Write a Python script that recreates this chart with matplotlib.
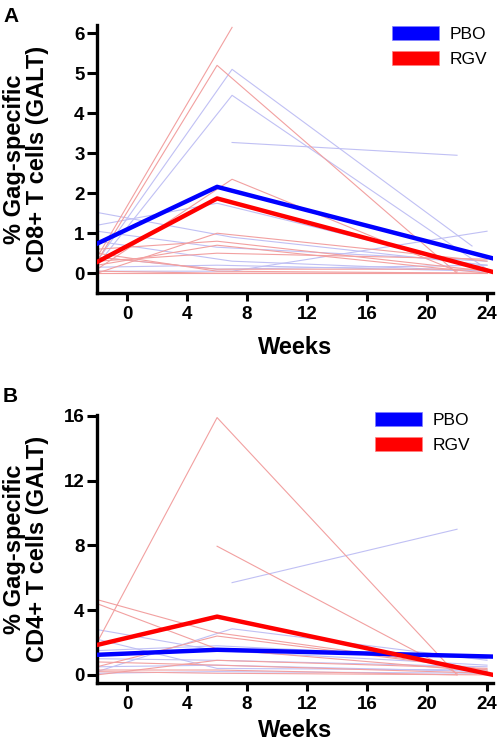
import matplotlib
matplotlib.use("Agg")
import matplotlib.pyplot as plt
from matplotlib.patches import Patch

plt.rcParams['font.family'] = ['Liberation Sans', 'DejaVu Sans']

# ---- panel A: CD8+ (GALT) ----
a_pbo_subjects = [
    ([-2, 7, 23], [0.30, 5.10, 0.68]),
    ([-2, 7, 24], [0.20, 4.45, 0.10]),
    ([7, 22], [3.27, 2.95]),
    ([-2, 7, 24], [1.52, 0.90, 0.20]),
    ([-2, 6, 24], [1.20, 1.75, 0.10]),
    ([-2, 7, 24], [0.80, 0.30, 0.05]),
    ([-2, 7, 24], [0.05, 0.05, 1.05]),
    ([-2, 6, 24], [0.40, 0.10, 0.20]),
    ([-2, 6, 24], [1.05, 0.65, 0.30]),
    ([-2, 6, 24], [0.15, 0.20, 0.05]),
]
a_rgv_subjects = [
    ([-2, 7], [0.40, 6.15]),
    ([-2, 6, 22], [0.30, 5.20, 0.00]),
    ([-2, 7, 22], [0.10, 2.35, 0.05]),
    ([-2, 6, 24], [0.00, 1.00, 0.30]),
    ([-2, 6, 24], [0.50, 0.05, 0.00]),
    ([-2, 6, 24], [0.20, 0.70, 0.00]),
    ([-2, 6, 24], [0.00, 0.00, 0.00]),
    ([-2, 6, 24], [0.40, 0.10, 0.10]),
    ([-2, 6, 24], [0.60, 0.80, 0.05]),
    ([-2, 6, 22], [0.05, 0.00, 0.00]),
    ([-2, 6, 24], [0.30, 0.50, 0.35]),
]
a_mean_weeks = [-2, 6, 24.4]
a_pbo_mean = [0.74, 2.16, 0.37]
a_rgv_mean = [0.28, 1.87, 0.03]

# ---- panel B: CD4+ (GALT) ----
b_pbo_subjects = [
    ([7, 22], [5.70, 9.00]),
    ([-2, 6, 24], [2.80, 1.50, 0.60]),
    ([-2, 7, 24], [0.20, 2.85, 0.90]),
    ([-2, 6, 24], [2.20, 0.40, 0.30]),
    ([-2, 6, 24], [1.00, 0.90, 0.50]),
    ([-2, 6, 24], [0.50, 0.60, 0.20]),
    ([-2, 6, 24], [0.10, 0.20, 0.10]),
    ([-2, 6, 24], [1.50, 1.80, 1.00]),
]
b_rgv_subjects = [
    ([-2, 6, 22], [2.00, 15.90, 0.00]),
    ([6, 22], [7.95, 0.10]),
    ([-2, 6, 24], [4.65, 2.60, 0.30]),
    ([-2, 6, 24], [4.40, 1.60, 0.20]),
    ([-2, 6, 24], [0.50, 2.40, 0.30]),
    ([-2, 6, 24], [0.80, 0.60, 0.10]),
    ([-2, 6, 24], [0.20, 0.10, 0.00]),
    ([-2, 6, 24], [0.00, 0.90, 0.40]),
    ([-2, 6, 22], [0.30, 0.30, 0.00]),
]
b_mean_weeks = [-2, 6, 24.4]
b_pbo_mean = [1.24, 1.55, 1.13]
b_rgv_mean = [1.85, 3.60, 0.00]

x_ticks = [0, 4, 8, 12, 16, 20, 24]
group_labels = ['PBO', 'RGV']

BLUE = '#0000ff'
RED = '#ff0000'
LBLUE = '#c0c0f4'
LRED = '#f2a0a0'

fig = plt.figure(figsize=(4.98, 7.46), dpi=100)


def draw_panel(rect, pbo_subj, rgv_subj, mweeks, pbo_mean, rgv_mean,
               ylim, yticks, ylabel, letter, letter_y, leg_xy, xpad):
    ax = fig.add_axes(rect)
    for wk, v in pbo_subj:
        ax.plot(wk, v, color=LBLUE, lw=0.8, zorder=2)
    for wk, v in rgv_subj:
        ax.plot(wk, v, color=LRED, lw=0.8, zorder=2)
    ax.plot(mweeks, pbo_mean, color=BLUE, lw=3.2, zorder=4)
    ax.plot(mweeks, rgv_mean, color=RED, lw=3.2, zorder=4)

    ax.set_xlim(-2, 24.4)
    ax.set_ylim(*ylim)
    ax.set_xticks(x_ticks)
    ax.set_yticks(yticks)
    for s in ['top', 'right']:
        ax.spines[s].set_visible(False)
    for s in ['left', 'bottom']:
        ax.spines[s].set_linewidth(2.4)
    ax.tick_params(axis='x', direction='out', length=5.5, width=2.2,
                   labelsize=13.5, pad=4)
    ax.tick_params(axis='y', direction='out', length=7, width=2.2,
                   labelsize=13.5, pad=2)
    for lab in ax.get_xticklabels() + ax.get_yticklabels():
        lab.set_fontweight('bold')
    ax.set_xlabel('Weeks', fontsize=17, fontweight='bold', labelpad=xpad)
    ax.set_ylabel(ylabel, fontsize=17, fontweight='bold', linespacing=1.0)
    ax.yaxis.set_label_coords(-0.122, 0.5)

    handles = [Patch(facecolor=BLUE, edgecolor='#8080ff', lw=0.5),
               Patch(facecolor=RED, edgecolor='#ff8080', lw=0.5)]
    ax.legend(handles, group_labels, loc='upper left',
              bbox_to_anchor=leg_xy, bbox_transform=fig.transFigure,
              frameon=False, borderpad=0, borderaxespad=0, fontsize=12.5,
              handlelength=2.7, handleheight=0.86, handletextpad=0.62,
              labelspacing=0.5)
    fig.text(0.006, letter_y, letter, fontsize=15, fontweight='bold',
             va='top', ha='left')
    return ax


draw_panel([0.195, 0.607, 0.795, 0.359], a_pbo_subjects, a_rgv_subjects,
           a_mean_weeks, a_pbo_mean, a_rgv_mean, (-0.5, 6.2),
           [0, 1, 2, 3, 4, 5, 6],
           '% Gag-specific\nCD8+ T cells (GALT)', 'A', 1 - 7 / 746,
           (392 / 498, 1 - 26 / 746), 9)

draw_panel([0.195, 0.0845, 0.795, 0.359], b_pbo_subjects, b_rgv_subjects,
           b_mean_weeks, b_pbo_mean, b_rgv_mean, (-0.5, 16.05),
           [0, 4, 8, 12, 16],
           '% Gag-specific\nCD4+ T cells (GALT)', 'B', 1 - 387 / 746,
           (375 / 498, 1 - 412 / 746), 4)

fig.savefig('out.png', dpi=100)
